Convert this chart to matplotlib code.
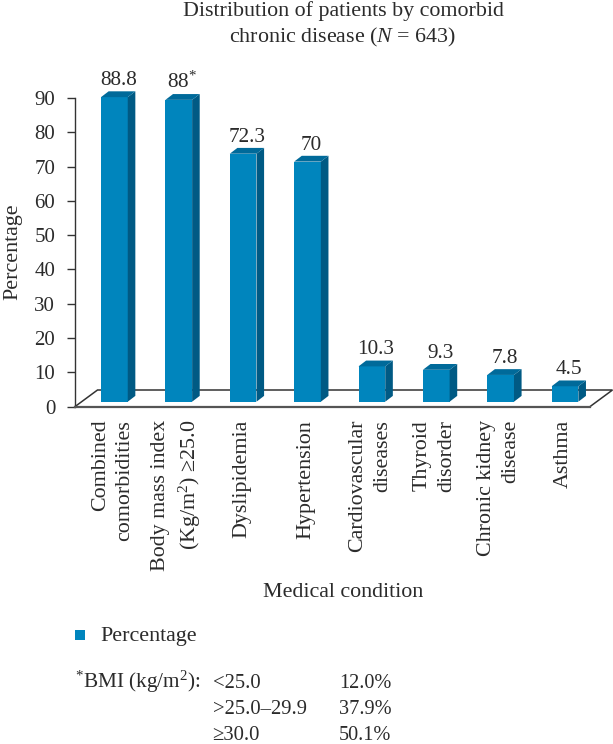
import matplotlib
matplotlib.use("Agg")
import matplotlib.pyplot as plt
from matplotlib.patches import Polygon, Rectangle
from matplotlib.transforms import ScaledTranslation

categories = ["Combined\ncomorbidities", "Body mass index\n(Kg/m$^{2}$) ≥25.0", "Dyslipidemia", "Hypertension",
              "Cardiovascular\ndiseases", "Thyroid\ndisorder", "Chronic kidney\ndisease", "Asthma"]
values = [88.8, 88, 72.3, 70, 10.3, 9.3, 7.8, 4.5]
value_labels = ["88.8", "88$^{*}$", "72.3", "70", "10.3", "9.3", "7.8", "4.5"]
yticks = [0, 10, 20, 30, 40, 50, 60, 70, 80, 90]
bmi_ranges = ["<25.0", ">25.0–29.9", "≥30.0"]
bmi_shares = ["12.0%", "37.9%", "50.1%"]

W, H = 613, 744
plt.rcParams["font.family"] = ["Liberation Serif", "DejaVu Serif"]
plt.rcParams["mathtext.fontset"] = "custom"
plt.rcParams["mathtext.rm"] = "Liberation Serif"
plt.rcParams["mathtext.it"] = "Liberation Serif:italic"
plt.rcParams["mathtext.bf"] = "Liberation Serif:bold"
plt.rcParams["mathtext.default"] = "rm"

TXT = "#2b2b2b"
FRONT, SIDE, TOP = "#0085BD", "#005A84", "#006A9A"

fig = plt.figure(figsize=(W / 100, H / 100), dpi=100)
L, R, T, B = 75, 590, 98, 406.6
ax = fig.add_axes([L / W, 1 - B / H, (R - L) / W, (B - T) / H])
ax.set_xlim(-0.5, 7.5)
ax.set_ylim(0, 90)
ax.patch.set_alpha(0)
for s in ("top", "right"):
    ax.spines[s].set_visible(False)
ax.spines["left"].set_color("#333333")
ax.spines["left"].set_linewidth(1.0)
ax.spines["bottom"].set_color("#555555")
ax.spines["bottom"].set_linewidth(1.6)

# unit sizes (pixels to data)
ux = (R - L) / 8
uy = (B - T) / 90
dx, dy = 7.6 / ux, 5.8 / uy       # depth offset
floor_dx, floor_dy = 22.5 / ux, 16.6 / uy
base = 4.9 / uy
shift = 7.2 / ux
bw = 26.7 / ux

# floor
x_lo, x_hi = -0.5, 7.5
ax.plot([x_lo, x_lo + floor_dx, x_hi + floor_dx, x_hi],
        [0, floor_dy, floor_dy, 0], color="#333333", lw=1.1, clip_on=False, zorder=1,
        solid_joinstyle="miter")

scale = 3.43 / uy
for i, v in enumerate(values):
    x0 = i + shift - bw / 2
    x1 = x0 + bw
    y0 = base
    y1 = base + v * scale
    ax.add_patch(Rectangle((x0, y0), bw, y1 - y0, fc=FRONT, ec="none", zorder=3, clip_on=False))
    ax.add_patch(Polygon([(x1, y0), (x1 + dx, y0 + dy), (x1 + dx, y1 + dy), (x1, y1)],
                         fc=SIDE, ec="none", zorder=3, clip_on=False))
    ax.add_patch(Polygon([(x0, y1), (x0 + dx, y1 + dy), (x1 + dx, y1 + dy), (x1, y1)],
                         fc=TOP, ec="none", zorder=3, clip_on=False))
    ax.annotate(value_labels[i], (i + shift + dx / 2, y1 + dy), xytext=(0, 4.5),
                textcoords="offset points", ha="center", va="baseline",
                fontsize=15.3, color=TXT, annotation_clip=False)

ax.set_yticks(yticks)
ax.tick_params(axis="y", length=5.8, width=1, color="#333333", labelsize=15, labelcolor=TXT, pad=8.5)
ax.set_xticks(range(len(categories)))
ax.set_xticklabels(categories, rotation=90, ha="center", va="top", ma="right",
                   fontsize=15.8, color=TXT, linespacing=1.4)
ax.tick_params(axis="x", length=0, pad=9.5)
off = ScaledTranslation(5.5 / 100, 0, fig.dpi_scale_trans)
for lab in ax.get_xticklabels():
    lab.set_transform(lab.get_transform() + off)

def ftext(x, y, s, **kw):
    kw.setdefault("color", TXT)
    kw.setdefault("fontsize", 15.8)
    kw.setdefault("va", "baseline")
    fig.text(x / W, 1 - y / H, s, **kw)

ftext(343, 16, "Distribution of patients by comorbid", ha="center")
ftext(343, 42, r"chronic disease ($\mathit{N}$ = 643)", ha="center")
ftext(343, 597, "Medical condition", ha="center")
ftext(12.5, 251.5, "Percentage", ha="center", va="center", rotation=90)

fig.add_artist(Rectangle((74.5 / W, 1 - 640 / H), 10 / W, 10 / H, transform=fig.transFigure,
                         fc=FRONT, ec="none"))
ftext(100, 641, "Percentage")
ftext(75, 688, "$^{*}$BMI (kg/m$^{2}$):", fontsize=15.3)
for y, r, s in zip((688, 714.5, 739.5), bmi_ranges, bmi_shares):
    ftext(212.5, y, r, fontsize=14.9)
    ftext(339, y, s, fontsize=14.6)

fig.savefig("out.png", dpi=100)
